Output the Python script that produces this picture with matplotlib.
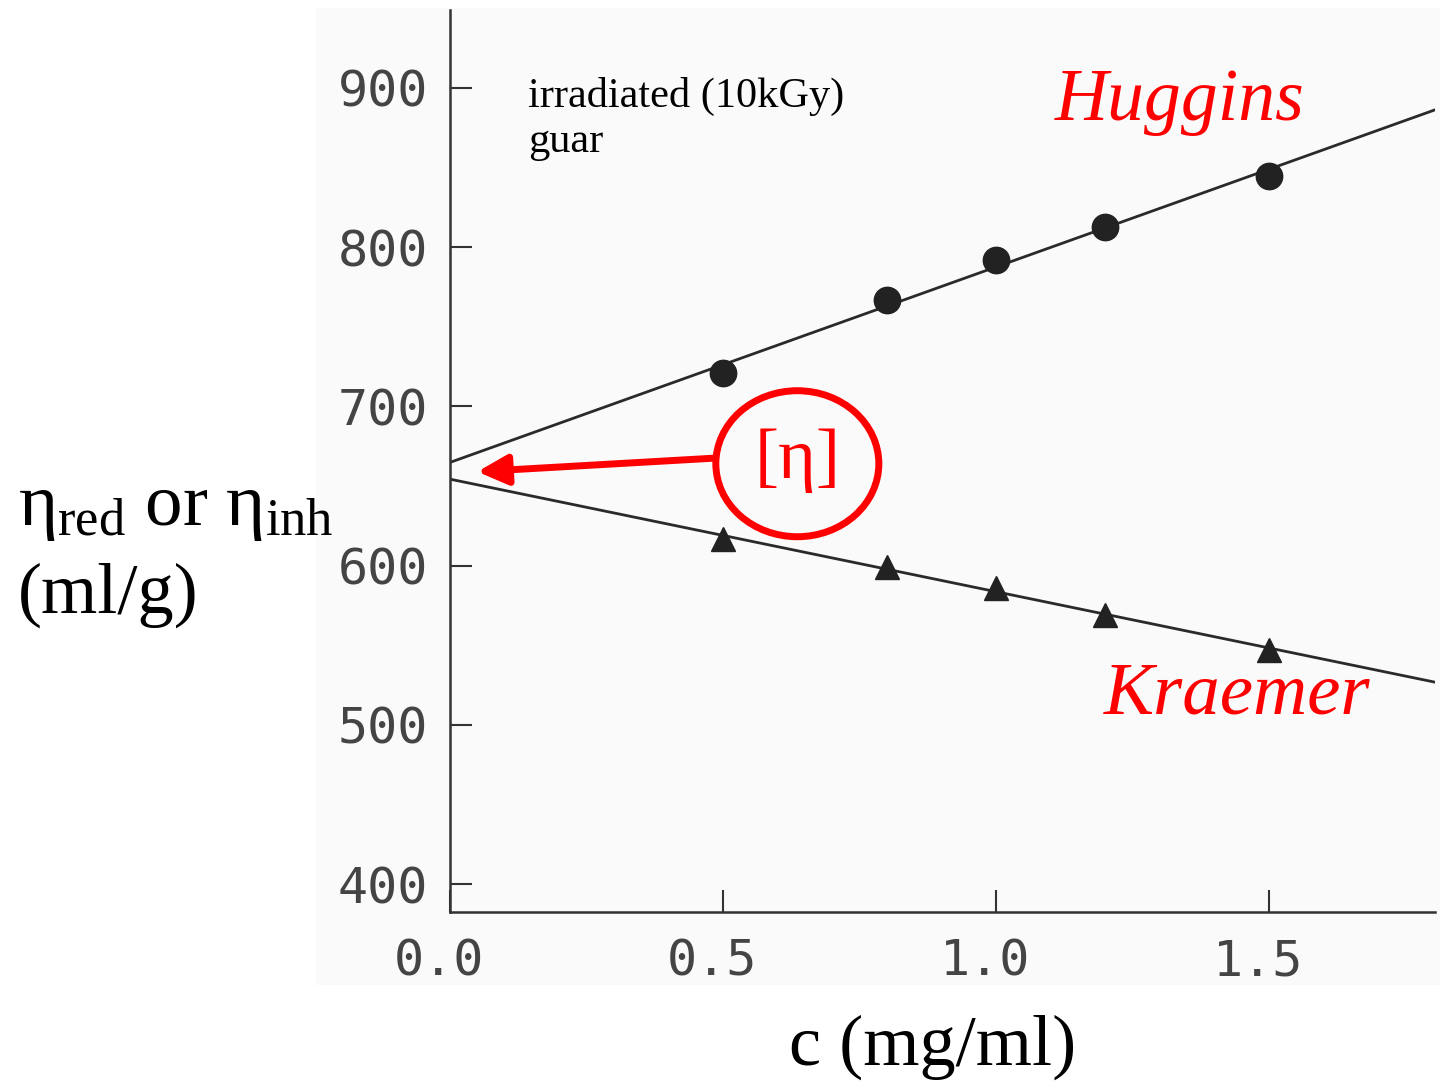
import numpy as np
import matplotlib
matplotlib.use("Agg")
import matplotlib.pyplot as plt
import matplotlib.transforms as mtransforms
from matplotlib.patches import Ellipse, Rectangle

# concentration (mg/ml)
conc = [0.5, 0.8, 1.0, 1.2, 1.5]
# reduced viscosity (Huggins) and inherent viscosity (Kraemer), ml/g
eta_red = [721, 767, 792, 813, 845]
eta_inh = [617, 599, 586, 569, 547]

x_ticks = [0.0, 0.5, 1.0, 1.5]
y_ticks = [400, 500, 600, 700, 800, 900]

plt.rcParams['mathtext.fontset'] = 'custom'
plt.rcParams['mathtext.rm'] = 'Liberation Serif'
plt.rcParams['mathtext.it'] = 'Liberation Serif'

fig = plt.figure(figsize=(14.43, 10.86), dpi=100)

# faint grey of the scanned page, kept behind the axes
fig.patches.append(Rectangle((0.219, 0.093), 0.779, 0.8996, transform=fig.transFigure,
                             facecolor='#fafafa', edgecolor='none', zorder=-5))

ax = fig.add_axes([0.3119, 0.1602, 0.6826, 0.8306])
ax.set_facecolor('none')
ax.set_xlim(0, 1.804)
ax.set_ylim(382.4, 949)

for s in ['top', 'right']:
    ax.spines[s].set_visible(False)
for s in ['left', 'bottom']:
    ax.spines[s].set_linewidth(1.8)
    ax.spines[s].set_color('#333333')

ax.set_xticks(x_ticks)
ax.set_xticklabels(["%.1f" % v for v in x_ticks])
ax.set_yticks(y_ticks)
ax.set_yticklabels([str(v) for v in y_ticks])
ax.tick_params(direction='in', length=16, width=1.5, color='#333333',
               labelsize=36, labelcolor='#444444')
ax.tick_params(axis='y', pad=16)
ax.tick_params(axis='x', pad=18)
for lab in ax.get_xticklabels() + ax.get_yticklabels():
    lab.set_family('DejaVu Sans Mono')
# plotter labels sit a little left of their ticks
shift = mtransforms.ScaledTranslation(-0.11, 0, fig.dpi_scale_trans)
for lab in ax.get_xticklabels():
    lab.set_transform(lab.get_transform() + shift)

# least squares lines extrapolated to c = 0
xs = np.array([0.0, 1.804])
ph = np.polyfit(conc, eta_red, 1)
pk = np.polyfit(conc, eta_inh, 1)
ax.plot(xs, np.polyval(ph, xs), color='#2a2a2a', lw=2, zorder=2)
ax.plot(xs, np.polyval(pk, xs), color='#2a2a2a', lw=2, zorder=2)
ax.plot(conc, eta_red, 'o', color='#222222', ms=19, zorder=3)
ax.plot(conc, eta_inh, '^', color='#222222', ms=17, zorder=3)

serif = 'Liberation Serif'
ax.text(0.143, 860, "irradiated (10kGy)\nguar", family=serif, fontsize=30.5,
        va='baseline', ha='left', linespacing=1.2)
ax.text(1.107, 880, "Huggins", family=serif, fontsize=53, style='italic',
        color='#ff0000', va='baseline')
ax.text(1.197, 507, "Kraemer", family=serif, fontsize=54, style='italic',
        color='#ff0000', va='baseline')

# intrinsic viscosity callout
ax.add_patch(Ellipse((0.636, 664), 163 / 546, 146 / 1.592, fill=False,
                     edgecolor='#ff0000', lw=5, zorder=4))
ax.text(0.636, 666, "[η]", family=serif, fontsize=52, color='#ff0000',
        ha='center', va='center', zorder=4)
ax.annotate("", xy=(0.05, 659), xytext=(0.484, 667.5),
            arrowprops=dict(arrowstyle='-|>,head_length=1.3,head_width=0.65',
                            mutation_scale=14, color='#ff0000', lw=5,
                            shrinkA=0, shrinkB=0),
            zorder=4)

fig.text(0.0125, 0.5166, r"$\eta_{red}$ or $\eta_{inh}$", family=serif,
         fontsize=54, va='baseline', ha='left')
fig.text(0.0125, 0.4355, "(ml/g)", family=serif, fontsize=52,
         va='baseline', ha='left')
fig.text(0.646, 0.0193, "c (mg/ml)", family=serif, fontsize=52,
         va='baseline', ha='center')

fig.savefig("out.png", dpi=100)
